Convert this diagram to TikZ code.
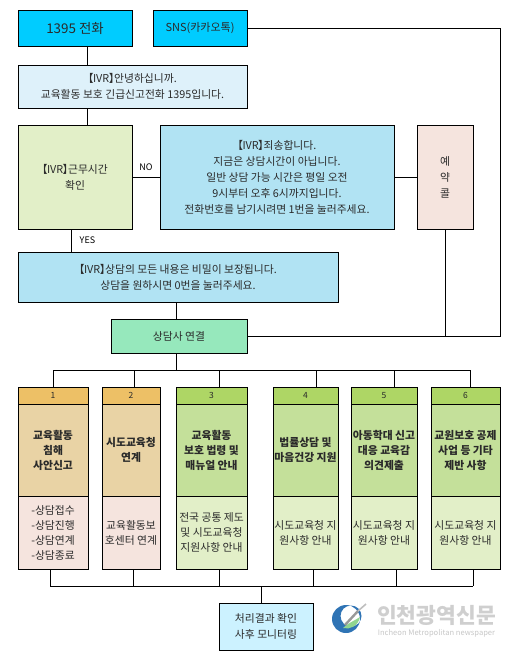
\documentclass[tikz,border=0pt]{standalone}
\usepackage{fontspec}
\setmainfont{Noto Sans CJK KR}
\usetikzlibrary{positioning}
\definecolor{callblue}{HTML}{00CCFF}
\definecolor{ivrpale}{HTML}{DEF1FA}
\definecolor{ivrblue}{HTML}{B1E3F3}
\definecolor{pagegreen}{HTML}{E2EFC8}
\definecolor{sand}{HTML}{F5E4DE}
\definecolor{mint}{HTML}{96E8BC}
\definecolor{headorange}{HTML}{EDC066}
\definecolor{bodyorange}{HTML}{E9D3A5}
\definecolor{headgreen}{HTML}{AED665}
\definecolor{bodygreen}{HTML}{C4E09A}
\definecolor{resultblue}{HTML}{CCF2FF}
\definecolor{inktext}{HTML}{2A2A2A}
\definecolor{logoblue}{HTML}{2F74B5}
\newcommand{\ivrtag}{\mbox{\kern-.5em【\kern-.05em IVR\kern-.05em】\kern-.5em}}
\begin{document}
\begin{tikzpicture}[
      x=1pt, y=-1pt,
      font=\fontsize{10.8}{16}\selectfont,
      text=inktext,
      box/.style={draw=black, line width=0.8pt, align=center, inner sep=0pt, outer sep=0pt},
      head/.style={box, font=\fontsize{8.5}{10}\selectfont, minimum height=17pt},
      topic/.style={box, font=\fontsize{10.8}{15}\selectfont\bfseries, minimum height=92pt},
      detail/.style={box, font=\fontsize{10.8}{15}\selectfont, minimum height=73pt},
      edgelabel/.style={font=\fontsize{9}{10}\selectfont},
      line/.style={line width=0.8pt, black}
    ]
      \useasboundingbox (0,0) rectangle (522,657);

      \node[box, fill=callblue, anchor=north west, minimum width=114pt, minimum height=36pt, font=\fontsize{13.4}{14}\selectfont] (call) at (18,10) {1395 전화};
      \node[box, fill=callblue, right=21pt of call, minimum width=94pt, minimum height=36pt, font=\fontsize{11}{14}\selectfont] (sns) {SNS(카카오톡)};
      \node[box, fill=ivrpale, below=19pt of call.south west, anchor=north west, minimum width=229pt, minimum height=43pt] (greet) {\ivrtag 안녕하십니까.\\교육활동 보호 긴급신고전화 1395입니다.};
      \node[box, fill=pagegreen, below=17pt of greet.south west, anchor=north west, minimum width=114pt, minimum height=104pt] (hours) {\ivrtag 근무시간\\확인};
      \node[box, fill=ivrblue, right=28pt of hours, minimum width=234pt, minimum height=104pt] (closed) {\ivrtag 죄송합니다.\\지금은 상담시간이 아닙니다.\\일반 상담 가능 시간은 평일 오전\\9시부터 오후 6시까지입니다.\\전화번호를 남기시려면 1번을 눌러주세요.};
      \node[box, fill=sand, right=23pt of closed, minimum width=56pt, minimum height=104pt] (booking) {예\\약\\콜};
      \node[box, fill=ivrblue, below=23pt of hours.south west, anchor=north west, minimum width=320pt, minimum height=50pt] (notice) {\ivrtag 상담의 모든 내용은 비밀이 보장됩니다.\\상담을 원하시면 0번을 눌러주세요.};
      \node[box, fill=mint, anchor=north west, minimum width=136pt, minimum height=34pt] (agent) at (111,319) {상담사 연결};

      % six columns
      \node[head, fill=headorange, anchor=north west, minimum width=70pt] (head1) at (18,387) {1};
      \node[topic, fill=bodyorange, below=0pt of head1, minimum width=70pt] (topic1) {교육활동\\침해\\사안신고};
      \node[detail, fill=sand, below=0pt of topic1, minimum width=70pt] (detail1) {-상담접수\\-상담진행\\-상담연계\\-상담종료};

      \node[head, fill=headorange, right=14pt of head1, minimum width=58pt] (head2) {2};
      \node[topic, fill=bodyorange, below=0pt of head2, minimum width=58pt] (topic2) {시도교육청\\연계};
      \node[detail, fill=sand, below=0pt of topic2, minimum width=58pt] (detail2) {교육활동보\\호센터 연계};

      \node[head, fill=headgreen, right=16pt of head2, minimum width=71pt] (head3) {3};
      \node[topic, fill=bodygreen, below=0pt of head3, minimum width=71pt] (topic3) {교육활동\\보호 법령 및\\매뉴얼 안내};
      \node[detail, fill=pagegreen, below=0pt of topic3, minimum width=71pt] (detail3) {전국 공통 제도\\및 시도교육청\\지원사항 안내};

      \node[head, fill=headgreen, right=26pt of head3, minimum width=65pt] (head4) {4};
      \node[topic, fill=bodygreen, below=0pt of head4, minimum width=65pt] (topic4) {법률상담 및\\마음건강 지원};
      \node[detail, fill=pagegreen, below=0pt of topic4, minimum width=65pt] (detail4) {시도교육청 지\\원사항 안내};

      \node[head, fill=headgreen, right=13pt of head4, minimum width=66pt] (head5) {5};
      \node[topic, fill=bodygreen, below=0pt of head5, minimum width=66pt] (topic5) {아동학대 신고\\대응 교육감\\의견제출};
      \node[detail, fill=pagegreen, below=0pt of topic5, minimum width=66pt] (detail5) {시도교육청 지\\원사항 안내};

      \node[head, fill=headgreen, right=14pt of head5, minimum width=69pt] (head6) {6};
      \node[topic, fill=bodygreen, below=0pt of head6, minimum width=69pt] (topic6) {교원보호 공제\\사업 등 기타\\제반 사항};
      \node[detail, fill=pagegreen, below=0pt of topic6, minimum width=69pt] (detail6) {시도교육청 지\\원사항 안내};

      \node[box, fill=resultblue, anchor=north west, minimum width=94pt, minimum height=47pt] (result) at (219,603) {처리결과 확인\\사후 모니터링};

      \coordinate (snscorner) at (500,28);
      \coordinate (agentcorner) at (500,336);
      \coordinate (topbus) at (0,370);
      \coordinate (bottombus) at (0,586);

      \draw[line] (call.south -| 87,0) -- (greet.north -| 87,0);
      \draw[line] (greet.south -| 87,0) -- (hours.north -| 87,0);
      \draw[line] (hours) -- node[above=3pt, edgelabel]{NO} (closed);
      \draw[line] (closed) -- (booking);
      \draw[line] (hours.south -| 71,0) -- node[right=5pt, edgelabel]{YES} (notice.north -| 71,0);
      \draw[line] (notice.south -| 176,0) -- (agent.north -| 176,0);
      \draw[line] (sns) -- (snscorner) -- (agentcorner) -- (agent.east |- agentcorner);
      \draw[line] (booking) -- (booking |- agentcorner);
      \draw[line] (agent.south -| 176,0) -- (topbus -| 176,0);

      % buses and drops
      \draw[line] (topbus -| 53,0) -- (topbus -| 470,0);
      \draw[line] (bottombus -| 50,0) -- (bottombus -| 473,0);
      \foreach \col/\topx/\botx in {1/53/50, 2/134/133, 3/219/219, 4/316/313, 5/394/396, 6/470/473} {
        \draw[line] (topbus -| \topx,0) -- (head\col.north -| \topx,0);
        \draw[line] (detail\col.south -| \botx,0) -- (bottombus -| \botx,0);
      }
      \draw[line] (bottombus -| 261,0) -- (result.north -| 261,0);

      % newspaper logo
      \fill[logoblue, even odd rule] (346,619) circle (14) (351,616) circle (10.5);
      \fill[green!45!gray!60] (343,628) .. controls (350,630) and (358,626) .. (360,617) .. controls (354,621) and (348,623) .. (343,628);
      \draw[gray!80, line width=2.4pt] (345,625) -- (358,611);
      \draw[gray!50, line width=1.6pt] (358,611) -- (366,604);
      \node[font=\fontsize{21.5}{24}\selectfont\bfseries, text=gray!38, inner sep=0pt] (logotitle) at (436.5,615) {인천광역신문};
      \node[font=\fontsize{7.6}{9}\selectfont, text=gray!45, inner sep=0pt, below=4pt of logotitle] (logosub) {Incheon Metropolitan newspaper};
    \end{tikzpicture}
\end{document}
